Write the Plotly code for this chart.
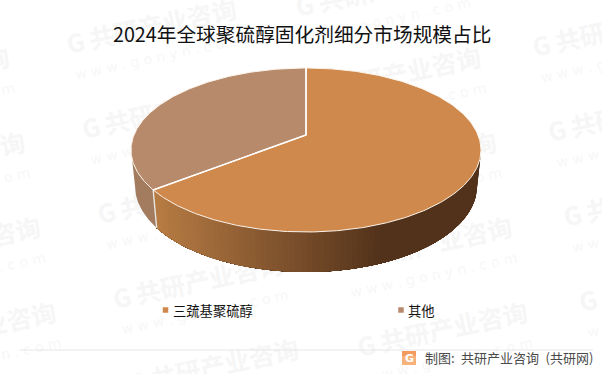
import numpy as np
import plotly.graph_objects as go

title = "2024年全球聚硫醇固化剂细分市场规模占比"
categories = ["三巯基聚硫醇", "其他"]
values = [66.9, 33.1]
colors = ["#D0894C", "#B88A6C"]
source = "制图:\u2002共研产业咨询\u2002(共研网)"
wm_text = "G\u2009共研产业咨询"
wm_url = "w w w . g o n y n . c o m"
CJK = "Noto Sans CJK SC"

# pie projection, in the pixel space of the axes
CX, CY, RX, RY = 306, 150, 175, 82      # top rim
CX2, CY2, RX2, RY2 = 306, 186, 171, 86  # bottom rim
APEX = (306, 135)

def rim(t, bottom=False):
    r = np.radians(t)
    if bottom:
        return CX2 + RX2 * np.sin(r), CY2 - RY2 * np.cos(r)
    return CX + RX * np.sin(r), CY - RY * np.cos(r)

share = np.array(values) / sum(values)
split = 360 * share[0]

fig = go.Figure()

def poly(x, y, fill, line=None, width=0):
    fig.add_trace(go.Scatter(x=list(x), y=list(y), mode="lines", fill="toself", fillcolor=fill,
                             line=dict(color=line or fill, width=width), hoverinfo="skip", showlegend=False))

def wall(t0, t1, fill):
    ts = np.linspace(t0, t1, 60)
    tx, ty = rim(ts)
    bx, by = rim(ts[::-1], True)
    poly(np.r_[tx, bx], np.r_[ty, by], fill)

# side wall of the large slice, with its left-to-right shading;
# every band runs to the far end and the next one paints over it, so no seams show
dark_x = 383
light = np.array([0xB6, 0x7B, 0x43])
dark = np.array([0x52, 0x32, 0x1B])
edges = np.linspace(90, split, 80)
for a, b in zip(edges[:-1], edges[1:]):
    xm = rim((a + b) / 2)[0]
    k = np.clip((dark_x - xm) / (dark_x - 158), 0, 1)
    c = dark + (light - dark) * k
    wall(a, split, "rgb(%d,%d,%d)" % tuple(c))

# side wall of the small slice
wall(split, 270, "#A37C5F")

# separator on the wall
sx0, sy0 = rim(split)
sx1, sy1 = rim(split, True)
fig.add_trace(go.Scatter(x=[sx0, sx1], y=[sy0, sy1], mode="lines", line=dict(color="#E8E4E0", width=1.4),
                         hoverinfo="skip", showlegend=False))

# top faces
ts = np.linspace(0, split, 300)
x, y = rim(ts)
poly(np.r_[APEX[0], x, APEX[0]], np.r_[APEX[1], y, APEX[1]], colors[0], "#FBF3EA", 1)
ts = np.linspace(split, 360, 200)
x, y = rim(ts)
poly(np.r_[APEX[0], x, APEX[0]], np.r_[APEX[1], y, APEX[1]], colors[1], "#FBF3EA", 1)
fig.add_trace(go.Scatter(x=[sx0, APEX[0], APEX[0]], y=[sy0, APEX[1], rim(0)[1]], mode="lines",
                         line=dict(color="white", width=1.6), hoverinfo="skip", showlegend=False))

# legend
for name, col, mx, tx in zip(categories, colors, [165.5, 401], [172.5, 408]):
    fig.add_trace(go.Scatter(x=[mx], y=[310], mode="markers", marker=dict(symbol="square", size=5.5, color=col),
                             hoverinfo="skip", showlegend=False))
    fig.add_annotation(x=tx, y=310, text=name, showarrow=False, xanchor="left", yanchor="middle", xshift=-2,
                       font=dict(family=CJK, size=13.3, color="#111111"))

fig.add_annotation(x=302, y=33, text=title, showarrow=False, xanchor="center", yanchor="middle",
                   font=dict(family=CJK, size=19.7, color="#111111"))
fig.add_annotation(x=593, y=357, text=source, showarrow=False, xanchor="right", yanchor="middle", xshift=2,
                   font=dict(family=CJK, size=13, color="#4A4A4A"))

shapes = []
# watermark columns, each stamp given by the position of its G
columns = [(-160, 95), (67, 47), (296, 10), (533, 50)]
ang = np.radians(12)
for c0, r0 in columns:
    for i in range(-1, 5):
        gx, gy = c0 + 15.5 * i, r0 + 85 * i
        mx, my = gx + 87 * np.cos(ang), gy - 87 * np.sin(ang)
        if my > 400 or my < -30 or mx < -80:
            continue
        ux, uy = mx + 6, my + 27
        shapes.append(dict(type="rect", layer="below", x0=mx - 100, x1=mx + 100, y0=my - 20, y1=my + 20,
                           line=dict(width=0), fillcolor="rgba(0,0,0,0)",
                           label=dict(text="<b>%s</b>" % wm_text, textangle=-12, textposition="middle center",
                                      font=dict(family=CJK, size=25, color="#F6F6F6"))))
        shapes.append(dict(type="rect", layer="below", x0=ux - 100, x1=ux + 100, y0=uy - 12, y1=uy + 12,
                           line=dict(width=0), fillcolor="rgba(0,0,0,0)",
                           label=dict(text=wm_url, textangle=-12, textposition="middle center",
                                      font=dict(family="DejaVu Sans", size=14, color="#F7F7F7"))))

shapes.append(dict(type="line", x0=20, x1=593, y0=350, y1=350, line=dict(color="#E6E6E6", width=1)))
# logo tile
shapes.append(dict(type="rect", x0=402, x1=416, y0=351, y1=365, line=dict(width=0), fillcolor="#F6B27A"))
shapes.append(dict(type="rect", x0=402, x1=416, y0=351, y1=356, line=dict(width=0), fillcolor="#F39A5C"))
fig.add_annotation(x=409.5, y=358, text="<b>G</b>", showarrow=False, xanchor="center", yanchor="middle",
                   font=dict(family="DejaVu Sans", size=11, color="white"))

fig.update_layout(width=602, height=374, margin=dict(l=0, r=0, t=0, b=0), paper_bgcolor="white", plot_bgcolor="white",
                  shapes=shapes, showlegend=False,
                  xaxis=dict(range=[0, 602], visible=False, fixedrange=True),
                  yaxis=dict(range=[374, 0], visible=False, fixedrange=True))
fig.write_html("out.html", config={"displayModeBar": False},
               post_script="document.body.style.margin='0';")
